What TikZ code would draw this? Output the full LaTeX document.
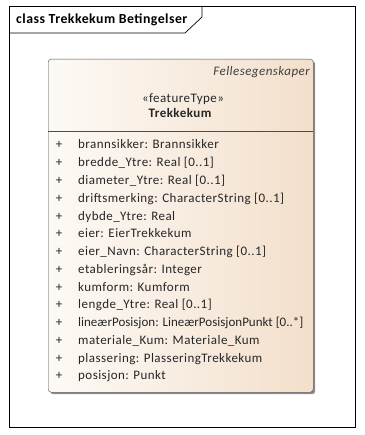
\documentclass[tikz,border=0pt]{standalone}
\usepackage{fontspec}
\setmainfont[LetterSpace=3.5]{Carlito}
\usetikzlibrary{shadows}

\begin{document}
\begin{tikzpicture}[x=1pt,y=-1pt,
  classbox/.style={draw=black!70,rounded corners=3,left color=kumlight,right color=kumpeach,
    drop shadow={shadow xshift=2pt,shadow yshift=-2pt,fill=black!45,opacity=1}},
  attr/.style={anchor=base west,inner sep=0,text=black!85,font=\fontsize{13}{15}\selectfont},
  plus/.style={anchor=base,inner sep=0,text=black!85,font=\fontsize{13}{15}\selectfont}]
\definecolor{kumlight}{HTML}{FDFAF6}
\definecolor{kumpeach}{HTML}{F3DFCB}
\useasboundingbox (0,0) rectangle (364,435);
% diagram frame with its tab
\draw[line width=0.9] (9,6) rectangle (355,427);
\draw[line width=0.7] (9,33) -- (185,33) -- (202,17) -- (202,6);
\node[anchor=base west,inner sep=0,font=\fontsize{13.8}{15}\selectfont\bfseries] (title) at (16,24) {class Trekkekum Betingelser};
% the class
\node[classbox,anchor=north west,minimum width=265,minimum height=333,inner sep=0] (kum) at (48,59) {};
\coordinate (sep) at (0,131);
\draw[black!70] (kum.west |- sep) -- (kum.east |- sep);
\node[anchor=base east,inner sep=0,text=black!75,font=\fontsize{13}{15}\selectfont\itshape] (pkg) at (310,76) {Fellesegenskaper};
\node[anchor=base,inner sep=0,text=black!85,font=\fontsize{13}{15}\selectfont] (stereo) at (183,103) {«featureType»};
\node[anchor=base,inner sep=0,text=black!85,font=\fontsize{13}{15}\selectfont\bfseries] (name) at (180,118) {Trekkekum};
  \foreach \n/\txt in {0/brannsikker: Brannsikker,1/bredde\_Ytre: Real [0..1],2/diameter\_Ytre: Real [0..1],
    3/driftsmerking: CharacterString [0..1],4/dybde\_Ytre: Real,5/eier: EierTrekkekum,
    6/eier\_Navn: CharacterString [0..1],7/etableringsår: Integer,8/kumform: Kumform,
    9/lengde\_Ytre: Real [0..1],10/{\addfontfeatures{LetterSpace=0}lineærPosisjon: LineærPosisjonPunkt [0..*]},
    11/materiale\_Kum: Materiale\_Kum,12/plassering: PlasseringTrekkekum,13/posisjon: Punkt}
  {  \node [plus] (p\n) at (59,{149+17.75*\n}) {+};
     \node [attr] (a\n) at (78,{149+17.75*\n}) {\txt};}
\end{tikzpicture}
\end{document}
